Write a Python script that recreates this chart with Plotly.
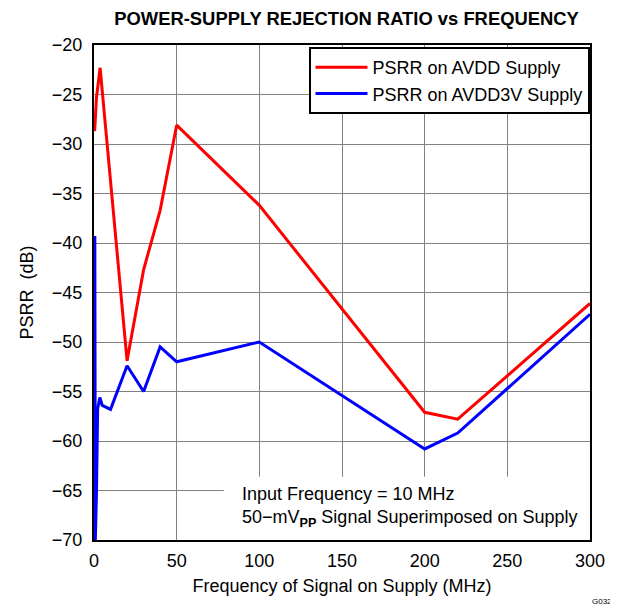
import plotly.graph_objects as go

avdd_freq = [0.4, 1.5, 3.7, 20, 30, 40, 50, 100, 200, 220, 300]
avdd_psrr = [-28.7, -25.3, -22.3, -51.9, -42.7, -36.7, -28.1, -36.2, -57.1, -57.8, -46.1]

avdd3v_freq = [0.5, 0.8, 1.5, 2.2, 3.5, 5, 10, 20, 30, 40, 50, 100, 200, 220, 300]
avdd3v_psrr = [-39.3, -70, -65.2, -56.8, -55.6, -56.4, -56.8, -52.4, -55.0, -50.5, -52.0, -50.0, -60.8, -59.2, -47.2]

series_names = ["PSRR on AVDD Supply", "PSRR on AVDD3V Supply"]
x_ticks = [0, 50, 100, 150, 200, 250, 300]
y_ticks = [-70, -65, -60, -55, -50, -45, -40, -35, -30, -25, -20]

FONT = "Liberation Sans, Arial, sans-serif"

fig = go.Figure()
fig.add_trace(go.Scatter(x=avdd_freq, y=avdd_psrr, mode="lines", name=series_names[0],
                         line=dict(color="#ff0000", width=3)))
fig.add_trace(go.Scatter(x=avdd3v_freq, y=avdd3v_psrr, mode="lines", name=series_names[1],
                         line=dict(color="#0000ff", width=3)))

fig.add_shape(type="rect", xref="x", yref="y", x0=78.5, x1=300, y0=-70, y1=-63.6,
              fillcolor="white", line=dict(width=0), layer="between")

fig.add_annotation(xref="paper", yref="paper", x=0.294, y=0.066, xanchor="left", yanchor="middle",
                   text="Input Frequency = 10 MHz<br>50\u2212mV<sub><b>PP</b></sub> Signal Superimposed on Supply",
                   showarrow=False, align="left", font=dict(family=FONT, size=18, color="black"))

fig.add_annotation(xref="paper", yref="paper", x=1.0, y=-0.112, xanchor="left", yanchor="top",
                   text="G032", showarrow=False, font=dict(family=FONT, size=8, color="black"))

fig.update_layout(
    width=610, height=597,
    margin=dict(l=86, r=28, t=37, b=65),
    paper_bgcolor="white", plot_bgcolor="white",
    font=dict(family=FONT, size=18, color="black"),
    title=dict(text="<b>POWER-SUPPLY REJECTION RATIO vs FREQUENCY</b>", x=0.555, xanchor="center",
               y=0.983, yanchor="middle", font=dict(family=FONT, size=18.4, color="black")),
    showlegend=True,
    legend=dict(x=0.999, y=0.996, xanchor="right", yanchor="top", bgcolor="white",
                bordercolor="black", borderwidth=2, font=dict(family=FONT, size=18),
                tracegroupgap=0, itemwidth=52),
)
fig.update_xaxes(range=[0, 300], tickvals=x_ticks, showgrid=True, gridcolor="#808080", gridwidth=1,
                 showline=True, linecolor="black", linewidth=2, mirror=True, zeroline=False,
                 ticks="", tickfont=dict(size=18), ticklabelstandoff=3,
                 title=dict(text="Frequency of Signal on Supply (MHz)", font=dict(size=18), standoff=10))
fig.update_yaxes(range=[-70, -20], tickvals=y_ticks, showgrid=True, gridcolor="#808080", gridwidth=1,
                 showline=True, linecolor="black", linewidth=2, mirror=True, zeroline=False,
                 ticks="", tickfont=dict(size=18), ticklabelstandoff=6,
                 title=dict(text="PSRR  (dB)", font=dict(size=18), standoff=14))

fig.write_html("out.html")
